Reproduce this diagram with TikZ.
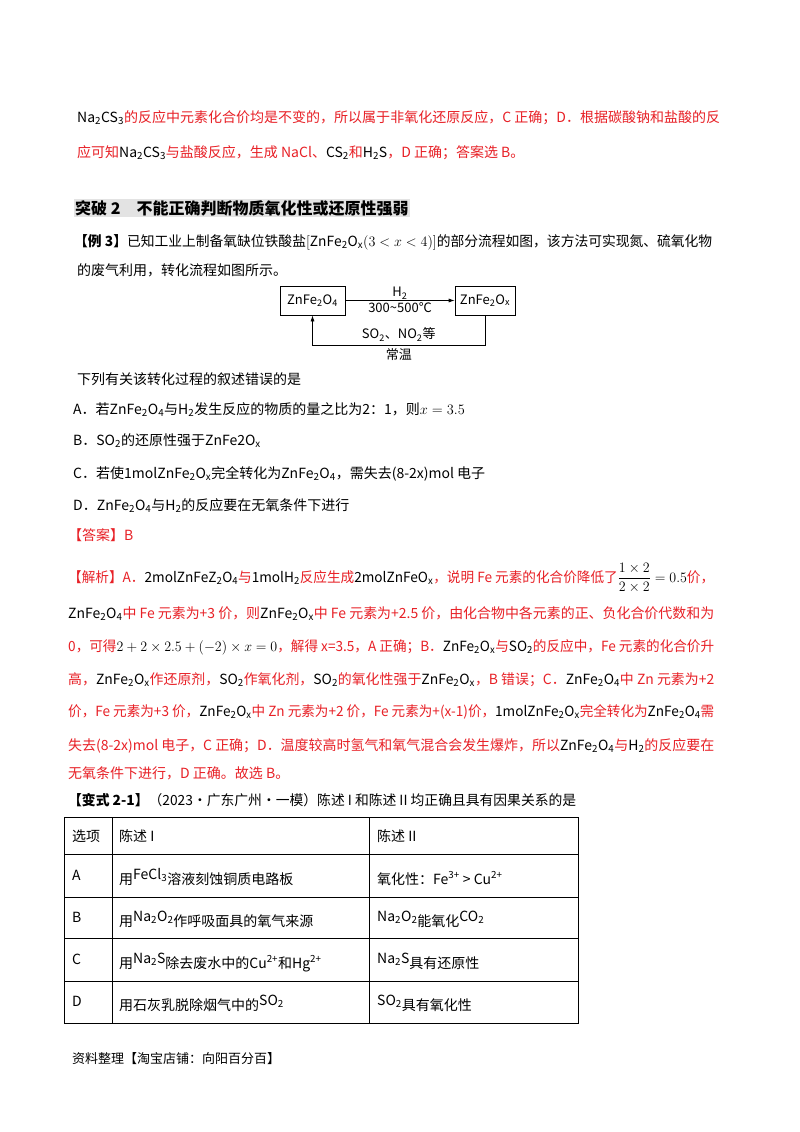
\documentclass[tikz,border=0pt]{standalone}
\usepackage{fontspec}
\usepackage{amsmath}
\usepackage{graphicx}
\setmainfont{Noto Sans CJK SC}
\usetikzlibrary{arrows.meta}
\definecolor{myred}{RGB}{232,32,38}
\newcommand{\kk}[1]{\textcolor{black}{#1}}
\newcommand{\sbs}[1]{\textsubscript{#1}}
\newsavebox{\fitbox}
\newcommand{\fitline}[2]{\sbox{\fitbox}{#2}\resizebox{#1}{\ht\fitbox}{\usebox{\fitbox}}}
\begin{document}
\begin{tikzpicture}[x=1pt,y=-1pt,
  txt/.style={anchor=base west,inner sep=0pt,font=\fontsize{14}{16}\selectfont},
  rtxt/.style={txt,text=myred},
  fbox/.style={draw,line width=0.7pt,minimum height=29pt,inner sep=2pt,font=\fontsize{13}{15}\selectfont},
  lbl/.style={inner sep=0pt,font=\fontsize{13}{15}\selectfont},
  arr/.style={line width=0.7pt,-{Latex[length=6pt,width=4pt]}},
  tline/.style={line width=0.9pt}]
\useasboundingbox (0,0) rectangle (800,1132);
\fill[white] (0,0) rectangle (800,1132);
% top red paragraph
\node[rtxt] (l1) at (77,122) {\fitline{643pt}{\kk{Na\sbs{2}CS\sbs{3}}的反应中元素化合价均是不变的，所以属于非氧化还原反应，C 正确；D．根据碳酸钠和盐酸的反}};
\node[rtxt] (l2) at (77,157) {应可知\kk{Na\sbs{2}CS\sbs{3}}与盐酸反应，生成 NaCl、\kk{CS\sbs{2}}和\kk{H\sbs{2}S}，D 正确；答案选 B。};
% heading
\node[txt,fill=gray!22,inner sep=1pt,font=\fontsize{16}{18}\selectfont\bfseries] (hd) at (74,214) {突破 2\quad 不能正确判断物质氧化性或还原性强弱};
\node[txt] (ex) at (74,246) {\fitline{638pt}{{\bfseries 【例 3】}已知工业上制备氧缺位铁酸盐$\left[\mathrm{ZnFe_2O_{\mathit{x}}}(3<x<4)\right]$的部分流程如图，该方法可实现氮、硫氧化物}};
\node[txt] (ex2) at (77,275) {的废气利用，转化流程如图所示。};
% diagram
\node[fbox,minimum width=65pt] (b1) at (312.5,300.5) {ZnFe\sbs{2}O\sbs{4}};
\node[fbox,minimum width=60pt] (b2) at (485,300.5) {ZnFe\sbs{2}O\sbs{\textit{x}}};
\draw[arr] (b1.east) -- node[lbl,above=1pt] (h2) {H\sbs{2}} node[lbl,below=2pt] (tc) {300\textasciitilde 500℃} (b2.west);
\draw[arr] (b2.south) -- ++(0,30) coordinate (c2) -| node[pos=0.25,lbl,above=4pt] (so) {SO\sbs{2}、NO\sbs{2}等} node[pos=0.25,lbl,below=3pt] (cw) {常温} (b1.south);
% options
\node[txt] (q) at (77,384) {下列有关该转化过程的叙述错误的是};
\node[txt] (oa) at (73,414) {A．若\textit{ZnFe}\sbs{2}O\sbs{4}与H\sbs{2}发生反应的物质的量之比为2：1，则$x=3.5$};
\node[txt] (ob) at (73,445) {B．SO\sbs{2}的还原性强于ZnFe2O\sbs{\textit{x}}};
\node[txt] (oc) at (73,478) {C．若使1molZnFe\sbs{2}O\sbs{\textit{x}}完全转化为ZnFe\sbs{2}O\sbs{4}，需失去(8-2x)mol 电子};
\node[txt] (od) at (73,510) {D．ZnFe\sbs{2}O\sbs{4}与H\sbs{2}的反应要在无氧条件下进行};
\node[rtxt] (ans) at (68,540) {【答案】B};
% analysis
\node[rtxt] (a1) at (68,582) {\fitline{646pt}{【解析】A．\kk{2molZnFeZ\sbs{2}O\sbs{4}}与\kk{1molH\sbs{2}}反应生成\kk{2molZnFeO\sbs{\textit{x}}}，说明 Fe 元素的化合价降低了\kk{$\dfrac{1\times2}{2\times2}=0.5$}价，}};
\node[rtxt] (a2) at (68,618) {\fitline{646pt}{\kk{ZnFe\sbs{2}O\sbs{4}}中 Fe 元素为+3 价，则\kk{ZnFe\sbs{2}O\sbs{\textit{x}}}中 Fe 元素为+2.5 价，由化合物中各元素的正、负化合价代数和为}};
\node[rtxt] (a3) at (68,651) {\fitline{646pt}{0，可得\kk{$2+2\times2.5+(-2)\times x=0$}，解得 x=3.5，A 正确；B．\kk{ZnFe\sbs{2}O\sbs{\textit{x}}}与\kk{SO\sbs{2}}的反应中，Fe 元素的化合价升}};
\node[rtxt] (a4) at (68,684) {\fitline{646pt}{高，\kk{ZnFe\sbs{2}O\sbs{\textit{x}}}作还原剂，\kk{SO\sbs{2}}作氧化剂，\kk{SO\sbs{2}}的氧化性强于\kk{ZnFe\sbs{2}O\sbs{\textit{x}}}，B 错误；C．\kk{ZnFe\sbs{2}O\sbs{4}}中 Zn 元素为+2}};
\node[rtxt] (a5) at (68,716) {\fitline{646pt}{价，Fe 元素为+3 价，\kk{ZnFe\sbs{2}O\sbs{\textit{x}}}中 Zn 元素为+2 价，Fe 元素为+(x-1)价，\kk{1molZnFe\sbs{2}O\sbs{\textit{x}}}完全转化为\kk{ZnFe\sbs{2}O\sbs{4}}需}};
\node[rtxt] (a6) at (68,750) {\fitline{646pt}{失去(8-2x)mol 电子，C 正确；D．温度较高时氢气和氧气混合会发生爆炸，所以\kk{ZnFe\sbs{2}O\sbs{4}}与\kk{H\sbs{2}}的反应要在}};
\node[rtxt] (a7) at (68,778) {无氧条件下进行，D 正确。故选 B。};
% variant
\node[txt] (v) at (68,805) {\fitline{508pt}{{\bfseries 【变式 2-1】}（2023·广东广州·一模）陈述 I 和陈述 II 均正确且具有因果关系的是}};
% table
\draw[tline] (64,817) rectangle (578,1023);
\foreach \yy in {854,897,938,981} \draw[tline] (64,\yy) -- (578,\yy);
\draw[tline] (112,817) -- (112,1023);
\draw[tline] (369,817) -- (369,1023);
\node[txt] (t00) at (72,841) {选项};
\node[txt] (t01) at (119,841) {陈述 I};
\node[txt] (t02) at (377,841) {陈述 II};
\node[txt] (t10) at (72,880) {A};
\node[txt] (t11) at (119,884) {用\raisebox{5pt}{FeCl\sbs{3}}溶液刻蚀铜质电路板};
\node[txt] (t12) at (377,884) {氧化性：Fe\textsuperscript{3+} > Cu\textsuperscript{2+}};
\node[txt] (t20) at (72,922) {B};
\node[txt] (t21) at (119,926) {用\raisebox{5pt}{Na\sbs{2}O\sbs{2}}作呼吸面具的氧气来源};
\node[txt] (t22) at (377,926) {\raisebox{5pt}{Na\sbs{2}O\sbs{2}}能氧化\raisebox{5pt}{CO\sbs{2}}};
\node[txt] (t30) at (72,964) {C};
\node[txt] (t31) at (119,968) {用\raisebox{5pt}{Na\sbs{2}S}除去废水中的Cu\textsuperscript{2+}和Hg\textsuperscript{2+}};
\node[txt] (t32) at (377,968) {\raisebox{5pt}{Na\sbs{2}S}具有还原性};
\node[txt] (t40) at (72,1006) {D};
\node[txt] (t41) at (119,1010) {用石灰乳脱除烟气中的\raisebox{5pt}{SO\sbs{2}}};
\node[txt] (t42) at (377,1010) {\raisebox{5pt}{SO\sbs{2}}具有氧化性};
% footer
\node[txt,font=\fontsize{13}{15}\selectfont] (ft) at (72,1063) {资料整理【淘宝店铺：向阳百分百】};
\end{tikzpicture}
\end{document}
